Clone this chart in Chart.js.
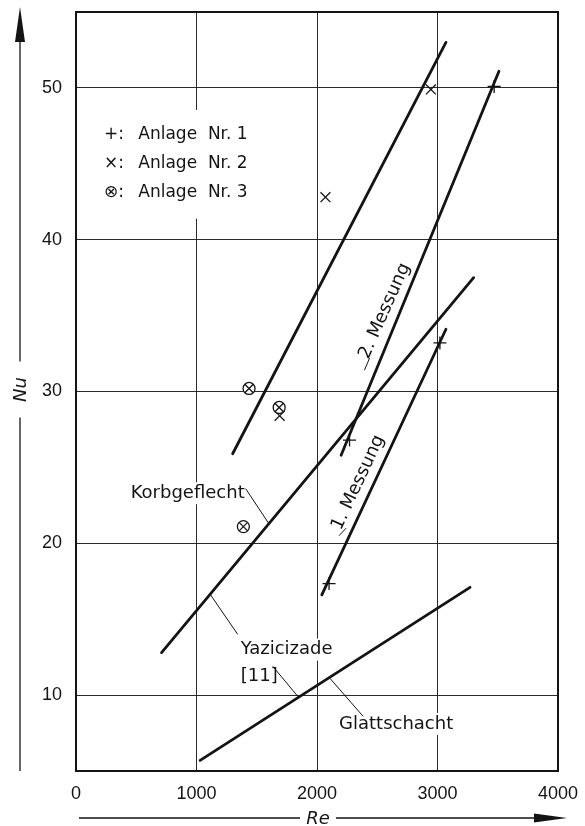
<!DOCTYPE html>
<html>
<head>
<meta charset="utf-8">
<script src="https://cdn.jsdelivr.net/npm/chart.js@4"></script>
<style>
  body { margin: 0; background: #fff; }
  #wrap { width: 585px; height: 826px; }
</style>
</head>
<body>
<div id="wrap"><canvas id="nuChart"></canvas></div>
<script>
// axis ticks
const reTicks = [0, 1000, 2000, 3000, 4000];
const nuTicks = [10, 20, 30, 40, 50];

// fitted lines [Re, Nu]
const glattschacht = [[1030, 5.7], [3270, 17.1]];
const korbgeflecht = [[710, 12.8], [3300, 37.5]];
const anlage2Line = [[1300, 25.9], [3070, 53.0]];
const messung1 = [[2040, 16.6], [3070, 34.1]];
const messung2 = [[2200, 25.8], [3510, 51.1]];

// measured points
const anlage1 = [[3470, 50.1], [2270, 26.8], [2100, 17.35], [3020, 33.2]];
const anlage2 = [[2945, 49.9], [2070, 42.8], [1690, 28.4]];
const anlage3 = [[1436, 30.2], [1686, 28.95], [1389, 21.1]];

// leader lines from the labels
const leaderKorb = [[1408, 23.6], [1600, 21.3]];
const leaderYaz1 = [[1117, 16.6], [1342, 14.0]];
const leaderYaz2 = [[1633, 11.9], [1842, 9.9]];
const leaderGlatt = [[2108, 11.1], [2383, 8.6]];
const leaderMess2 = [[2394, 31.4], [2436, 32.2]];
const leaderMess1 = [[2183, 20.5], [2242, 21.0]];

const notes = [
    { text: "Korbgeflecht", x: 1400, y: 23.3, align: "right" },
    { text: "Yazicizade", x: 1367, y: 13.0, align: "left" },
    { text: "[11]", x: 1367, y: 11.25, align: "left" },
    { text: "Glattschacht", x: 2183, y: 8.1, align: "left" },
    { text: "2. Messung", x: 2562, y: 35.3, align: "center", rot: -66 },
    { text: "1. Messung", x: 2342, y: 24.0, align: "center", rot: -65 }
];

const legendItems = [
    { sym: "+", text: "Anlage  Nr. 1", y: 46.9 },
    { sym: "\u00d7", text: "Anlage  Nr. 2", y: 45.0 },
    { sym: "\u2297", text: "Anlage  Nr. 3", y: 43.1 }
];

const ink = "#141414";
const labelFont = "18px 'DejaVu Sans', sans-serif";
const legendFont = "17px 'DejaVu Sans', sans-serif";

const pts = a => a.map(([x, y]) => ({ x, y }));

function thick(data) {
    return { data: pts(data), showLine: true, borderColor: ink, borderWidth: 2.8,
        borderCapStyle: "round", pointRadius: 0 };
}
function thin(data) {
    return { data: pts(data), showLine: true, borderColor: ink, borderWidth: 1, pointRadius: 0 };
}

const drawing = {
    id: "drawing",
    beforeDatasetsDraw(chart) {
        // white patches so grid lines break behind the labels
        const { ctx, scales: { x, y } } = chart;
        ctx.save();
        ctx.fillStyle = "#fff";
        ctx.font = labelFont;
        notes.filter(n => !n.rot).forEach(n => {
            const w = ctx.measureText(n.text).width;
            const px = x.getPixelForValue(n.x), py = y.getPixelForValue(n.y);
            const left = n.align === "right" ? px - w : px;
            ctx.fillRect(left - 3, py - 11, w + 6, 22);
        });
        const top = y.getPixelForValue(legendItems[0].y) - 25;
        const bottom = y.getPixelForValue(legendItems[legendItems.length - 1].y) + 26;
        ctx.fillRect(x.getPixelForValue(200), top, x.getPixelForValue(1500) - x.getPixelForValue(200), bottom - top);
        ctx.restore();
    },
    afterDatasetsDraw(chart) {
        const { ctx, chartArea: a, scales: { x, y } } = chart;
        ctx.save();
        ctx.fillStyle = ink;
        ctx.textBaseline = "middle";
        ctx.font = labelFont;
        notes.forEach(n => {
            const px = x.getPixelForValue(n.x), py = y.getPixelForValue(n.y);
            ctx.save();
            ctx.translate(px, py);
            if (n.rot) ctx.rotate(n.rot * Math.PI / 180);
            ctx.textAlign = n.align;
            ctx.fillText(n.text, 0, 0);
            ctx.restore();
        });
        ctx.font = legendFont;
        ctx.textAlign = "left";
        legendItems.forEach(it => {
            const py = y.getPixelForValue(it.y);
            ctx.fillText(it.sym + ":", x.getPixelForValue(233), py);
            ctx.fillText(it.text, x.getPixelForValue(517), py);
        });
        // frame
        ctx.strokeStyle = ink;
        ctx.lineWidth = 2;
        ctx.strokeRect(a.left, a.top, a.right - a.left, a.bottom - a.top);
        ctx.restore();
    },
    afterDraw(chart) {
        const { ctx, chartArea: a } = chart;
        ctx.save();
        ctx.strokeStyle = ink;
        ctx.fillStyle = ink;
        ctx.lineWidth = 1.3;
        ctx.font = "italic 18px 'DejaVu Sans', sans-serif";
        ctx.textAlign = "center";
        ctx.textBaseline = "middle";

        // Nu arrow
        const ax = 20, midY = (a.top + a.bottom) / 2;
        ctx.beginPath();
        ctx.moveTo(ax, a.bottom); ctx.lineTo(ax, midY + 26);
        ctx.moveTo(ax, midY - 30); ctx.lineTo(ax, 40);
        ctx.stroke();
        ctx.beginPath();
        ctx.moveTo(ax, 7); ctx.lineTo(ax - 5, 42); ctx.lineTo(ax + 5, 42); ctx.closePath();
        ctx.fill();
        ctx.save();
        ctx.translate(ax + 1, midY - 2);
        ctx.rotate(-Math.PI / 2);
        ctx.fillText("Nu", 0, 0);
        ctx.restore();

        // Re arrow
        const ay = 818, midX = (a.left + a.right) / 2;
        ctx.beginPath();
        ctx.moveTo(a.left + 3, ay); ctx.lineTo(midX - 17, ay);
        ctx.moveTo(midX + 19, ay); ctx.lineTo(536, ay);
        ctx.stroke();
        ctx.beginPath();
        ctx.moveTo(567, ay); ctx.lineTo(534, ay - 4.5); ctx.lineTo(534, ay + 4.5); ctx.closePath();
        ctx.fill();
        ctx.fillText("Re", midX + 1, ay + 1);
        ctx.restore();
    }
};

new Chart(document.getElementById("nuChart"), {
    type: "scatter",
    data: {
        datasets: [
            { data: pts(anlage3), pointStyle: "crossRot", pointRadius: 6, borderColor: ink, borderWidth: 1.3 },
            { data: pts(anlage3), pointStyle: "circle", pointRadius: 6, borderColor: ink, backgroundColor: "#fff", borderWidth: 1.3 },
            { data: pts(anlage2), pointStyle: "crossRot", pointRadius: 7, borderColor: ink, borderWidth: 1.3 },
            { data: pts(anlage1), pointStyle: "cross", pointRadius: 6.5, borderColor: ink, borderWidth: 1.3 },
            thick(glattschacht),
            thick(korbgeflecht),
            thick(anlage2Line),
            thick(messung1),
            thick(messung2),
            thin(leaderKorb),
            thin(leaderYaz1),
            thin(leaderYaz2),
            thin(leaderGlatt),
            thin(leaderMess2),
            thin(leaderMess1)
        ]
    },
    options: {
        responsive: true,
        maintainAspectRatio: false,
        animation: false,
        layout: { padding: { left: 0, top: 12, right: 27, bottom: 0 } },
        plugins: { legend: { display: false }, tooltip: { enabled: false } },
        scales: {
            x: {
                type: "linear",
                min: 0,
                max: 4000,
                afterBuildTicks: s => { s.ticks = reTicks.map(v => ({ value: v })); },
                afterFit: s => { s.height = 55; s.paddingLeft = 0; s.paddingRight = 0; },
                border: { display: false },
                grid: { color: "#2a2a2a", lineWidth: 1, drawTicks: false },
                ticks: {
                    padding: 12, color: ink,
                    font: { family: "'Liberation Sans', sans-serif", size: 18 },
                    callback: v => String(v)
                }
            },
            y: {
                type: "linear",
                min: 5,
                max: 55,
                afterBuildTicks: s => { s.ticks = nuTicks.map(v => ({ value: v })); },
                afterFit: s => { s.width = 76; s.paddingTop = 0; s.paddingBottom = 0; },
                border: { display: false },
                grid: { color: "#2a2a2a", lineWidth: 1, drawTicks: false },
                ticks: {
                    padding: 14, color: ink,
                    font: { family: "'Liberation Sans', sans-serif", size: 18 },
                    callback: v => String(v)
                }
            }
        }
    },
    plugins: [drawing]
});
</script>
</body>
</html>
